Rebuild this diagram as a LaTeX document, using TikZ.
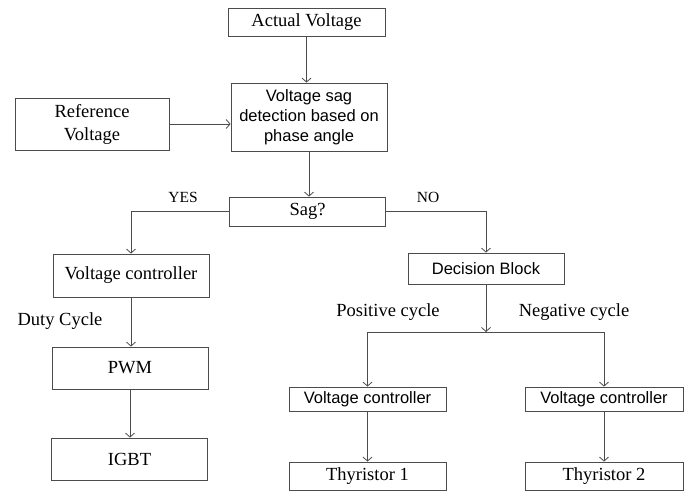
\documentclass[tikz,border=0pt]{standalone}
\usepackage{fontspec}
\setmainfont{Liberation Serif}
\newfontfamily\arialf{Liberation Sans}
\usetikzlibrary{arrows.meta}
\begin{document}
\begin{tikzpicture}[x=1pt,y=-1pt,
  boxs/.style={draw=black!70, line width=0.8pt, inner sep=0pt, align=center},
  serift/.style={font=\fontsize{18.5}{23}\selectfont},
  sanst/.style={font=\arialf\fontsize{16.5}{20}\selectfont},
  lbl/.style={font=\fontsize{18.5}{22}\selectfont, inner sep=0pt},
  small/.style={font=\fontsize{15.5}{18}\selectfont, inner sep=0pt},
  arr/.style={draw=black!70, line width=0.8pt, -{Straight Barb[length=4pt,width=9pt]}},
  ln/.style={draw=black!70, line width=0.8pt}]
\useasboundingbox (0,0) rectangle (690,492);
\fill[white] (0,0) rectangle (690,492);
% nodes
\node[boxs, serift, minimum width=157pt, minimum height=28pt] (AV) at (306.5,22) {Actual Voltage};
\node[boxs, sanst, minimum width=156pt, minimum height=68pt] (VS) at (309,117) {Voltage sag\\detection based on\\phase angle};
\node[boxs, serift, minimum width=154pt, minimum height=52pt] (RV) at (92,124) {Reference\\Voltage};
\node[boxs, serift, minimum width=156pt, minimum height=29pt] (SAG) at (307.5,211.5) {Sag?};
\node[boxs, serift, minimum width=156pt, minimum height=43pt] (VCL) at (131,275.5) {Voltage controller};
\node[boxs, sanst, minimum width=156pt, minimum height=31pt] (DB) at (486,268.5) {Decision Block};
\node[boxs, serift, minimum width=156pt, minimum height=42pt] (PWM) at (130,368) {PWM};
\node[boxs, serift, minimum width=156pt, minimum height=42pt] (IGBT) at (129.5,459) {IGBT};
\node[boxs, sanst, minimum width=157pt, minimum height=24pt] (VC1) at (367.5,399) {Voltage controller};
\node[boxs, sanst, minimum width=158pt, minimum height=24pt] (VC2) at (604,399) {Voltage controller};
\node[boxs, serift, minimum width=157pt, minimum height=28pt] (T1) at (367.5,476) {Thyristor 1};
\node[boxs, serift, minimum width=158pt, minimum height=28pt] (T2) at (604,476) {Thyristor 2};
% labels
\node[small] (YES) at (183,197) {YES};
\node[small] (NO) at (428,197) {NO};
\node[lbl] (DC) at (60,321) {Duty Cycle};
\node[lbl] (PC) at (388,312) {Positive cycle};
\node[lbl] (NC) at (574,312) {Negative cycle};
\coordinate (J) at (486,332);
% connectors
\draw[arr] (AV.south) -- (AV.south |- VS.north);
\draw[arr] (RV.east) -- (RV.east -| VS.west);
\draw[arr] (VS.south) -- (VS.south |- SAG.north);
\draw[arr] (SAG.west) -| (VCL.north);
\draw[arr] (SAG.east) -| (DB.north);
\draw[arr] (DB.south) -- (J);
\draw[ln] (VC1.north |- J) -- (VC2.north |- J);
\draw[arr] (J) -| (VC1.north);
\draw[arr] (J) -| (VC2.north);
\draw[arr] (VCL.south) -- (VCL.south |- PWM.north);
\draw[arr] (PWM.south) -- (PWM.south |- IGBT.north);
\draw[arr] (VC1.south) -- (T1.north);
\draw[arr] (VC2.south) -- (T2.north);
\end{tikzpicture}
\end{document}
